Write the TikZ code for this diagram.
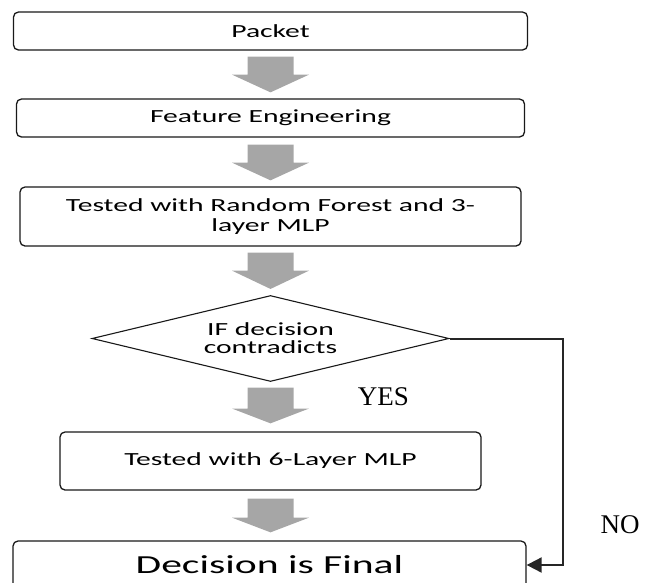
\documentclass[tikz,border=0pt]{standalone}
\usepackage{fontspec}
\setmainfont{Carlito}[FakeStretch=1.6]
\newfontfamily\tnr{Liberation Serif}
\usetikzlibrary{shapes.geometric,arrows.meta,calc}
\definecolor{arrowgray}{RGB}{166,166,166}
% #1 top node, #2 bottom node, #3 gap below top node, #4 head start below top node, #5 gap above bottom node
\newcommand\garrow[5]{%
  \coordinate (gt) at (#1.south);
  \coordinate (gb) at (#2.north -| gt);
  \fill[arrowgray] ($(gt)+(-23,#3)$) -- ($(gt)+(23,#3)$) -- ($(gt)+(23,#4)$) -- ($(gt)+(38.5,#4)$)
    -- ($(gb)+(0,-#5)$) -- ($(gt)+(-38.5,#4)$) -- ($(gt)+(-23,#4)$) -- cycle;}
\begin{document}
\begin{tikzpicture}[x=1pt,y=-1pt,
  box/.style={draw=black!90, rounded corners=5pt, line width=1.3pt, inner sep=2pt, align=center,
    font=\fontsize{18.5}{20}\selectfont},
  dia/.style={draw=black!90, diamond, line width=1.1pt, inner sep=0pt, aspect=4.15, align=center,
    font=\fontsize{18.5}{18}\selectfont},
  lbl/.style={font=\tnr\fontsize{27}{27}\selectfont, inner sep=0pt},
  conn/.style={line width=2pt, draw=black!85, -{Triangle[length=15pt,width=15pt]}}]
\useasboundingbox (0,0) rectangle (651,582);
\node[box, minimum width=514pt, minimum height=38pt] (packet) at (270.5,31) {Packet};
\node[box, minimum width=508pt, minimum height=38pt] (feat) at (270.5,118) {Feature Engineering};
\node[box, minimum width=501pt, minimum height=59pt] (test1) at (270.5,216.5) {Tested with Random Forest and 3-\\layer MLP};
\node[dia, minimum width=357pt, minimum height=86pt] (dec) at (270.5,338.5) {IF decision\\contradicts};
\node[box, minimum width=421pt, minimum height=58pt] (test2) at (270.5,461) {Tested with 6-Layer MLP};
\node[box, minimum width=513pt, minimum height=48pt, font=\fontsize{26}{28}\selectfont] (final) at (269.5,565) {Decision is Final};
\garrow{packet}{feat}{6}{24}{6}
\garrow{feat}{test1}{7}{25}{6}
\garrow{test1}{dec}{6}{24}{6}
\garrow{dec}{test2}{5.5}{26.5}{8}
\garrow{test2}{final}{8}{27}{8}
\coordinate (nocorner) at (563,338.5);
\draw[conn] (dec.east) -- (nocorner) |- (final.east);
\node[lbl] (yes) at (383.5,397) {YES};
\node[lbl] (no) at (620,525) {NO};
\end{tikzpicture}
\end{document}
